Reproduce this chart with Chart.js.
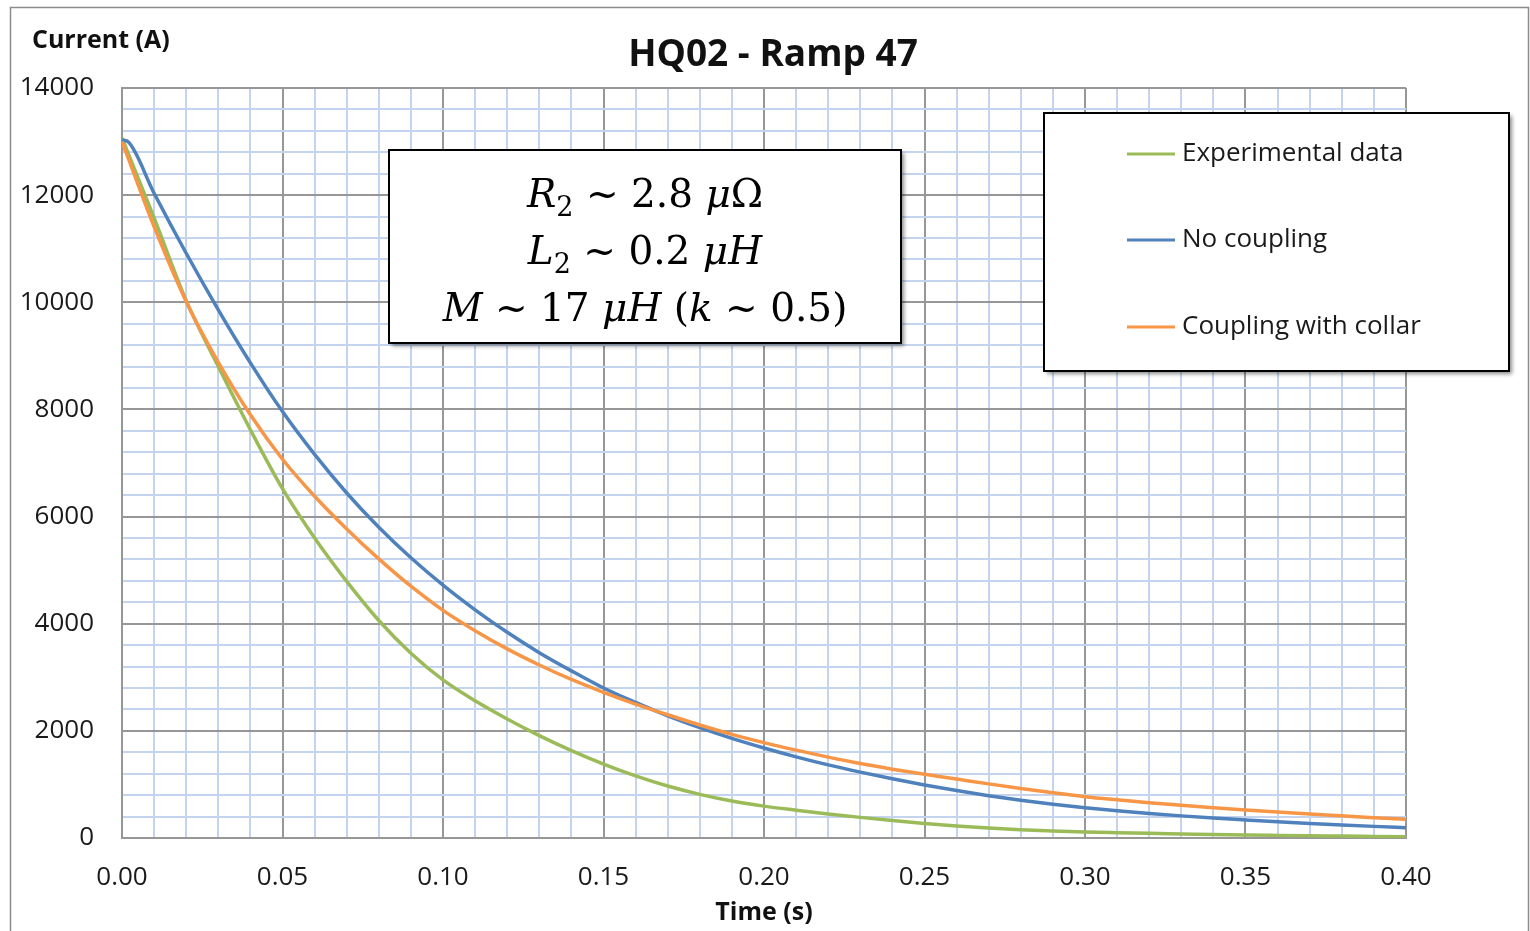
<!DOCTYPE html>
<html>
<head>
<meta charset="utf-8">
<script src="https://cdn.jsdelivr.net/npm/chart.js@4.4.1/dist/chart.umd.min.js"></script>
<style>
  html, body { margin: 0; padding: 0; background: #fff; }
  #wrap { width: 1530px; height: 931px; position: relative; }
</style>
</head>
<body>
<div id="wrap"><canvas id="myChart" width="1530" height="931"></canvas></div>
<script>
// time (s)
var times = [0, 0.002, 0.01, 0.02, 0.03, 0.04, 0.05, 0.06, 0.07, 0.08, 0.09, 0.10,
  0.11, 0.12, 0.13, 0.14, 0.15, 0.16, 0.17, 0.18, 0.19, 0.20,
  0.21, 0.22, 0.23, 0.24, 0.25, 0.26, 0.27, 0.28, 0.29, 0.30,
  0.31, 0.32, 0.33, 0.34, 0.35, 0.36, 0.37, 0.38, 0.39, 0.40];

// current (A)
var experimental = [13070, 12770, 11573, 10030, 8800, 7620, 6520, 5600, 4790, 4060, 3450, 2950,
  2560, 2220, 1910, 1630, 1380, 1160, 970, 815, 690, 595,
  520, 450, 385, 325, 270, 225, 185, 155, 130, 112,
  99, 87, 76, 65, 56, 49, 42, 36, 30, 25];
var noCoupling = [13030, 12990, 12035, 10915, 9860, 8870, 7960, 7160, 6440, 5800, 5230, 4720,
  4260, 3840, 3460, 3120, 2800, 2530, 2280, 2060, 1860, 1680,
  1515, 1365, 1230, 1105, 990, 885, 790, 705, 630, 566,
  509, 458, 413, 372, 336, 302, 271, 243, 217, 193];
var couplingCollar = [13000, 12680, 11411, 10012, 8880, 7900, 7070, 6380, 5770, 5210, 4700, 4250,
  3870, 3530, 3230, 2960, 2720, 2500, 2300, 2110, 1935, 1780,
  1640, 1510, 1390, 1285, 1190, 1100, 1010, 925, 845, 771,
  713, 660, 611, 565, 523, 484, 448, 414, 380, 350];

var seriesNames = ["Experimental data", "No coupling", "Coupling with collar"];
var seriesColors = ["#9bbb59", "#4f81bd", "#f79646"];

var chartTitle = "HQ02 - Ramp 47";
var yCaption = "Current (A)";
var xCaption = "Time (s)";

var annotationLines = [
  [["R", "i"], ["2", "sub"], [" ~ 2.8 ", "n"], ["\u03bc", "i"], ["\u03a9", "n"]],
  [["L", "i"], ["2", "sub"], [" ~ 0.2 ", "n"], ["\u03bcH", "i"]],
  [["M", "i"], [" ~ 17 ", "n"], ["\u03bcH", "i"], [" (", "n"], ["k", "i"], [" ~ 0.5)", "n"]]
];

function points(arr) {
  return times.map(function (t, i) { return { x: t, y: arr[i] }; });
}

var MAJOR = "#979797";
var MINOR = "#c4d4ee";
var FONT = "'Open Sans', sans-serif";
var MATH = "'DejaVu Serif', serif";

function boxWithShadow(ctx, x, y, w, h) {
  ctx.save();
  ctx.shadowColor = "rgba(0,0,0,0.45)";
  ctx.shadowOffsetX = 3;
  ctx.shadowOffsetY = 3;
  ctx.shadowBlur = 4;
  ctx.fillStyle = "#fff";
  ctx.fillRect(x, y, w, h);
  ctx.restore();
  ctx.strokeStyle = "#000";
  ctx.lineWidth = 2;
  ctx.strokeRect(x, y, w, h);
}

var decorations = {
  id: "decorations",
  beforeDraw: function (chart) {
    var ctx = chart.ctx;
    ctx.save();
    ctx.fillStyle = "#fff";
    ctx.fillRect(0, 0, chart.width, chart.height);
    ctx.strokeStyle = "#8c8c8c";
    ctx.lineWidth = 1.5;
    ctx.strokeRect(10.5, 7.5, 1518, 940);

    // title and y caption
    ctx.fillStyle = "#111";
    ctx.textBaseline = "middle";
    ctx.textAlign = "center";
    ctx.font = "bold 37px " + FONT;
    ctx.fillText(chartTitle, 773, 55);
    ctx.textAlign = "left";
    ctx.font = "bold 25px " + FONT;
    ctx.fillText(yCaption, 32, 41);
    ctx.restore();
  },
  afterDraw: function (chart) {
    var ctx = chart.ctx;
    ctx.save();

    // annotation box
    boxWithShadow(ctx, 389, 150, 512, 193);
    var size = 39;
    var baselines = [207, 264, 321];
    ctx.textBaseline = "alphabetic";
    ctx.fillStyle = "#000";
    function setFont(kind) {
      ctx.font = (kind === "i" ? "italic " : "") + (kind === "sub" ? Math.round(size * 0.7) : size) + "px " + MATH;
    }
    annotationLines.forEach(function (segs, row) {
      var widths = segs.map(function (s) {
        setFont(s[1]);
        return ctx.measureText(s[0]).width;
      });
      var total = widths.reduce(function (a, b) { return a + b; }, 0);
      var x = 645 - total / 2;
      segs.forEach(function (s, i) {
        setFont(s[1]);
        ctx.fillText(s[0], x, baselines[row] + (s[1] === "sub" ? 9 : 0));
        x += widths[i];
      });
    });

    // legend box
    boxWithShadow(ctx, 1044, 113, 465, 258);
    var rows = [154, 240, 327];
    ctx.font = "26px " + FONT;
    ctx.textBaseline = "middle";
    ctx.textAlign = "left";
    chart.data.datasets.forEach(function (ds, i) {
      ctx.strokeStyle = ds.borderColor;
      ctx.lineWidth = 3;
      ctx.beginPath();
      ctx.moveTo(1127, rows[i]);
      ctx.lineTo(1175, rows[i]);
      ctx.stroke();
      ctx.fillStyle = "#1a1a1a";
      ctx.fillText(ds.label, 1182, rows[i]);
    });
    ctx.restore();
  }
};

function gridColor(c) {
  return c.tick && c.tick.major ? MAJOR : MINOR;
}

var chart = new Chart(document.getElementById("myChart"), {
  type: "line",
  data: {
    datasets: [
      { label: seriesNames[0], data: points(experimental), borderColor: seriesColors[0], order: 2 },
      { label: seriesNames[1], data: points(noCoupling), borderColor: seriesColors[1], order: 1 },
      { label: seriesNames[2], data: points(couplingCollar), borderColor: seriesColors[2], order: 0 }
    ]
  },
  options: {
    responsive: false,
    animation: false,
    layout: { padding: { left: 0, right: 124, top: 88, bottom: 0 } },
    elements: {
      point: { radius: 0 },
      line: { borderWidth: 3.5, cubicInterpolationMode: "monotone", fill: false }
    },
    plugins: {
      legend: { display: false },
      tooltip: { enabled: false },
      title: { display: false }
    },
    scales: {
      x: {
        type: "linear",
        min: 0,
        max: 0.4,
        afterFit: function (scale) { scale.height = 93; },
        afterBuildTicks: function (scale) {
          scale.ticks.forEach(function (t) {
            t.major = Math.round(t.value * 100) % 5 === 0;
          });
        },
        ticks: {
          stepSize: 0.01,
          autoSkip: false,
          maxRotation: 0,
          padding: 24,
          color: "#1a1a1a",
          font: { family: FONT, size: 26 },
          callback: function (v) {
            return Math.round(v * 100) % 5 === 0 ? v.toFixed(2) : "";
          }
        },
        grid: {
          drawTicks: false,
          lineWidth: 2,
          color: gridColor
        },
        border: { color: MAJOR, width: 2 },
        title: {
          display: true,
          text: xCaption,
          color: "#111",
          font: { family: FONT, size: 25, weight: "bold" },
          padding: { top: 0, bottom: 3 }
        }
      },
      y: {
        min: 0,
        max: 14000,
        afterFit: function (scale) { scale.width = 122; },
        afterBuildTicks: function (scale) {
          scale.ticks.forEach(function (t) {
            t.major = Math.round(t.value) % 2000 === 0;
          });
        },
        ticks: {
          stepSize: 400,
          autoSkip: false,
          padding: 28,
          color: "#1a1a1a",
          font: { family: FONT, size: 26 },
          callback: function (v) {
            return Math.round(v) % 2000 === 0 ? String(v) : "";
          }
        },
        grid: {
          drawTicks: false,
          lineWidth: 2,
          color: gridColor
        },
        border: { color: MAJOR, width: 2 }
      }
    }
  },
  plugins: [decorations]
});
</script>
</body>
</html>
